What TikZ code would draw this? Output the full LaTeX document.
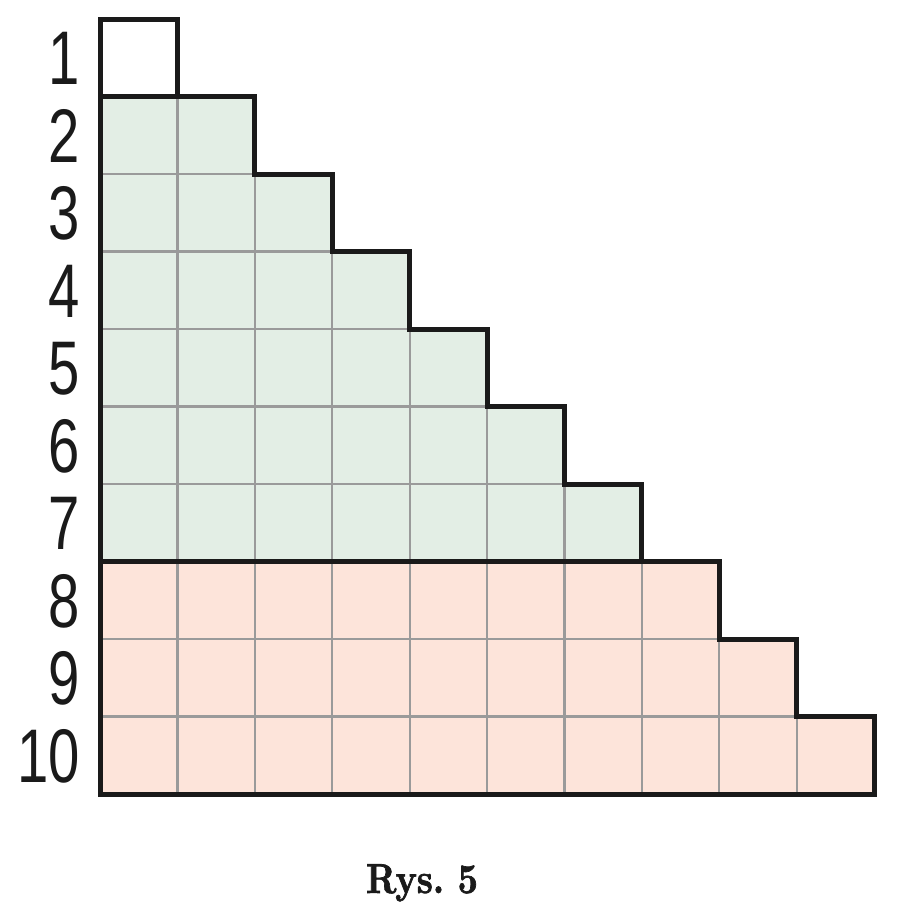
\documentclass[tikz,border=0pt]{standalone}
\usepackage{fontspec}
\newfontfamily\labfont[FakeStretch=0.74]{Liberation Sans}
\newfontfamily\capfont[FakeStretch=0.84,FakeBold=1.6]{lmroman10-bold.otf}
\definecolor{gfill}{HTML}{E3EEE5}
\definecolor{pfill}{HTML}{FDE4DA}
\definecolor{gline}{HTML}{9A9A9A}
\definecolor{kline}{HTML}{1A1A1A}
\begin{document}
\begin{tikzpicture}[x=0.5pt,y=-0.5pt,
  thinline/.style={draw=gline,line width=1.1pt},
  thickline/.style={draw=kline,line width=2.5pt,line join=miter,line cap=rect},
  lab/.style={font=\labfont\fontsize{38}{40}\selectfont,inner sep=0pt,anchor=base east,text=kline},
  caption/.style={font=\capfont\fontsize{21}{23}\selectfont,inner sep=0pt,anchor=base,text=kline}]
\useasboundingbox (0,0) rectangle (900,921);
\def\cw{77.4}
\def\ch{77.5}
% fills
\foreach \r in {2,...,10}{
  \pgfmathsetmacro\top{19+(\r-1)*\ch}
  \pgfmathsetmacro\bot{19+\r*\ch}
  \pgfmathsetmacro\rgt{100+\r*\cw}
  \ifnum\r<8
    \fill[gfill] (100,\top) rectangle (\rgt,\bot);
  \else
    \fill[pfill] (100,\top) rectangle (\rgt,\bot);
  \fi
}
% thin grid lines
\foreach \r in {2,...,10}{
  \pgfmathsetmacro\top{19+(\r-1)*\ch}
  \pgfmathsetmacro\bot{19+\r*\ch}
  \pgfmathsetmacro\rgt{100+\r*\cw}
  \pgfmathtruncatemacro\last{\r-1}
  \foreach \j in {1,...,\last}{
    \pgfmathsetmacro\xx{100+\j*\cw}
    \draw[thinline] (\xx,\top) -- (\xx,\bot);
  }
  \ifnum\r<10
    \draw[thinline] (100,\bot) -- (\rgt,\bot);
  \fi
}
% thick outline
\draw[thickline] (100,19)
  \foreach \r in {1,...,10}{ -- ({100+\r*\cw},{19+(\r-1)*\ch}) -- ({100+\r*\cw},{19+\r*\ch}) }
  -- (100,{19+10*\ch}) -- cycle;
\draw[thickline] (100,{19+\ch}) -- ({100+\cw},{19+\ch});
\draw[thickline] (100,{19+7*\ch}) -- ({100+7*\cw},{19+7*\ch});
% row labels
\foreach \r in {1,...,10}{
  \node[lab] (l\r) at (80,{19+(\r-0.5)*\ch+27}) {\r};
}
\node[caption] (cap) at (422,893) {Rys.\ 5};
\end{tikzpicture}
\end{document}
